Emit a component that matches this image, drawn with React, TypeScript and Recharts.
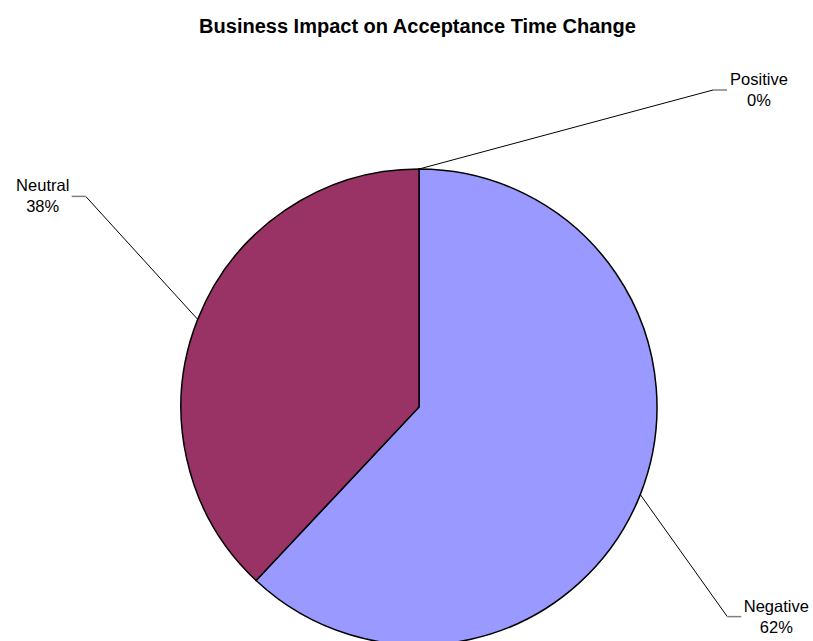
import React from "react";
import { PieChart, Pie, Cell } from "recharts";

const categories = ["Positive", "Negative", "Neutral"];
const shares = [0, 62, 38];
const colors = ["#FFFFCC", "#9999FF", "#993366"];
const chartTitle = "Business Impact on Acceptance Time Change";

// leader-line elbow offsets (relative to slice edge point) and label side
const labelLayout = [
  { dx: 294, dy: -79, side: 1, textOff: 32 },
  { dx: 87, dy: 122, side: 1, textOff: 35 },
  { dx: -112, dy: -123, side: -1, textOff: 29 },
];

const data = categories.map((c, i) => ({ name: c, value: shares[i] }));

const FONT = "'Liberation Sans', Arial, Helvetica, sans-serif";

const renderLabel = (props: any) => {
  const { cx, cy, midAngle, outerRadius, index, name, percent } = props;
  const RAD = Math.PI / 180;
  const sx = cx + outerRadius * Math.cos(-midAngle * RAD);
  const sy = cy + outerRadius * Math.sin(-midAngle * RAD);
  const L = labelLayout[index];
  const ex = sx + L.dx;
  const ey = sy + L.dy;
  const hx = ex + L.side * 14;
  const tx = hx + L.side * L.textOff;
  const pct = Math.round((percent || 0) * 100);
  return (
    <g key={`lbl-${index}`}>
      <line x1={sx} y1={sy} x2={ex} y2={ey} stroke="#000" strokeWidth={1} />
      <line x1={ex} y1={ey} x2={hx} y2={ey} stroke="#808080" strokeWidth={1.5} />
      <text x={tx} y={ey - 5} textAnchor="middle" fontFamily={FONT} fontSize={16.5} fill="#000">
        {name}
      </text>
      <text x={tx} y={ey + 16} textAnchor="middle" fontFamily={FONT} fontSize={16.5} fill="#000">
        {pct}%
      </text>
    </g>
  );
};

export default function App() {
  return (
    <div style={{ position: "absolute", left: 0, top: 0, width: 813, height: 641, background: "#fff", overflow: "hidden" }}>
      <div
        style={{
          position: "absolute",
          left: 0,
          top: 15,
          width: 835,
          textAlign: "center",
          fontFamily: FONT,
          fontWeight: "bold",
          fontSize: 20,
          color: "#000",
        }}
      >
        {chartTitle}
      </div>
      <div style={{ position: "absolute", left: 0, top: 0 }}>
        <PieChart width={813} height={641}>
          <Pie
            data={data}
            dataKey="value"
            nameKey="name"
            cx={414}
            cy={402}
            outerRadius={238}
            startAngle={90}
            endAngle={-270}
            stroke="#000"
            strokeWidth={1.5}
            label={renderLabel}
            labelLine={false}
            isAnimationActive={false}
          >
            {data.map((d, i) => (
              <Cell key={d.name} fill={colors[i]} />
            ))}
          </Pie>
        </PieChart>
      </div>
    </div>
  );
}
